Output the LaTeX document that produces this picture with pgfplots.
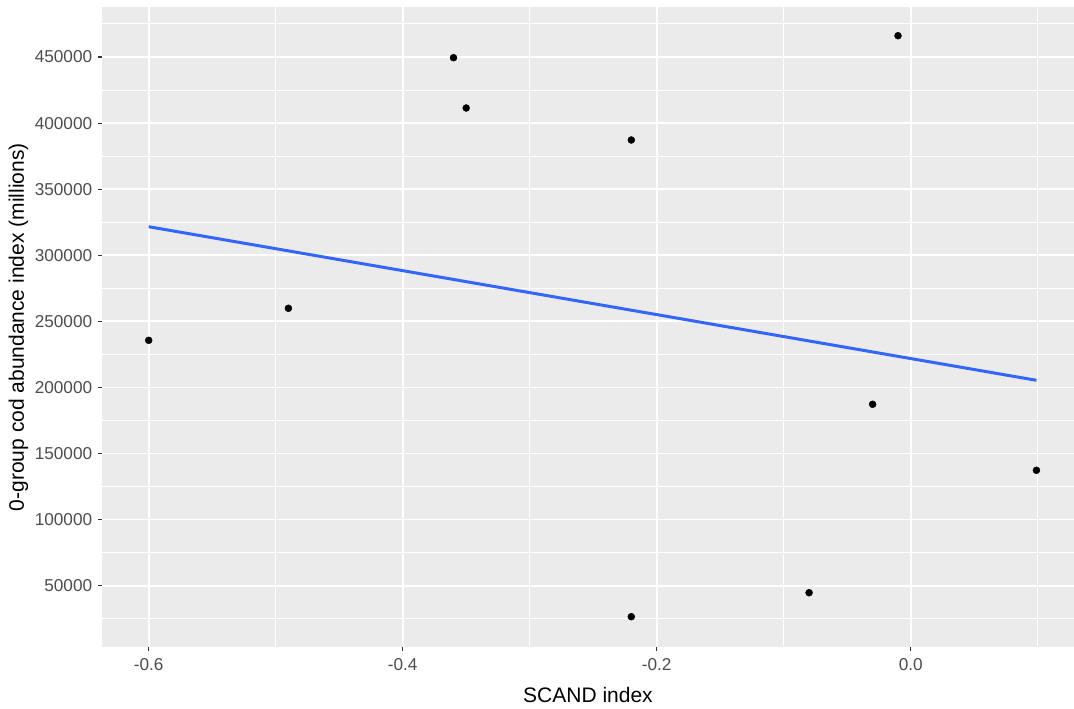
\documentclass[border=0pt]{standalone}
\usepackage{fontspec}
\setmainfont{Liberation Sans}
\usepackage{pgfplots}
\pgfplotsset{compat=1.18}
\definecolor{ggbg}{HTML}{EBEBEB}
\definecolor{ggblue}{HTML}{3366FF}
\definecolor{ticktext}{HTML}{4D4D4D}
\definecolor{tickcol}{HTML}{333333}
\begin{document}
\begin{tikzpicture}
\begin{axis}[
  scale only axis,
  width=972pt, height=639.5pt,
  xmin=-0.63677, xmax=0.12858,
  ymin=3620, ymax=487452,
  axis background/.style={fill=ggbg},
  axis line style={draw=none},
  xtick={-0.6,-0.4,-0.2,0},
  xticklabels={-0.6,-0.4,-0.2,0.0},
  minor xtick={-0.5,-0.3,-0.1,0.1},
  ytick={50000,100000,150000,200000,250000,300000,350000,400000,450000},
  yticklabels={50000,100000,150000,200000,250000,300000,350000,400000,450000},
  minor ytick={25000,75000,125000,175000,225000,275000,325000,375000,425000,475000},
  scaled x ticks=false, scaled y ticks=false,
  xmajorgrids, ymajorgrids, xminorgrids, yminorgrids,
  major grid style={white, line width=1.7pt},
  minor grid style={white, line width=1.0pt},
  tick align=outside,
  xtick pos=left, ytick pos=left,
  major tick length=3.6pt, minor tick length=0pt,
  tick style={tickcol, line width=1.1pt},
  ticklabel style={font=\fontsize{17.2}{20}\selectfont, text=ticktext, inner sep=0pt},
  xticklabel style={yshift=-8.0pt},
  yticklabel style={xshift=-6.0pt},
  xlabel={SCAND index},
  xlabel style={at={(axis description cs:0.5,-0.06255)}, anchor=north, inner sep=0pt, font=\fontsize{21}{25}\selectfont},
  ylabel={0-group cod abundance index (millions)},
  ylabel style={at={(axis description cs:-0.0859,0.5)}, anchor=center, inner sep=0pt, font=\fontsize{21}{25}\selectfont},
  clip=false,
]
\addplot[only marks, mark=*, mark size=3.5pt, black] coordinates {
  (-0.60,235650)
  (-0.49,259870)
  (-0.36,449470)
  (-0.35,411410)
  (-0.22,387200)
  (-0.22,26545)
  (-0.08,44700)
  (-0.03,187250)
  (-0.01,466100)
  (0.099,137310)
};
\addplot[ggblue, line width=3pt, no marks] coordinates {
  (-0.60,321600)
  (0.099,205400)
};
\coordinate (SW) at (rel axis cs:0,0);
\coordinate (NE) at (rel axis cs:1,1);
\end{axis}
\pgfresetboundingbox
\path[use as bounding box] ([shift={(-102pt,-61pt)}]SW) rectangle ([shift={(0pt,7.5pt)}]NE);
\end{tikzpicture}
\end{document}
